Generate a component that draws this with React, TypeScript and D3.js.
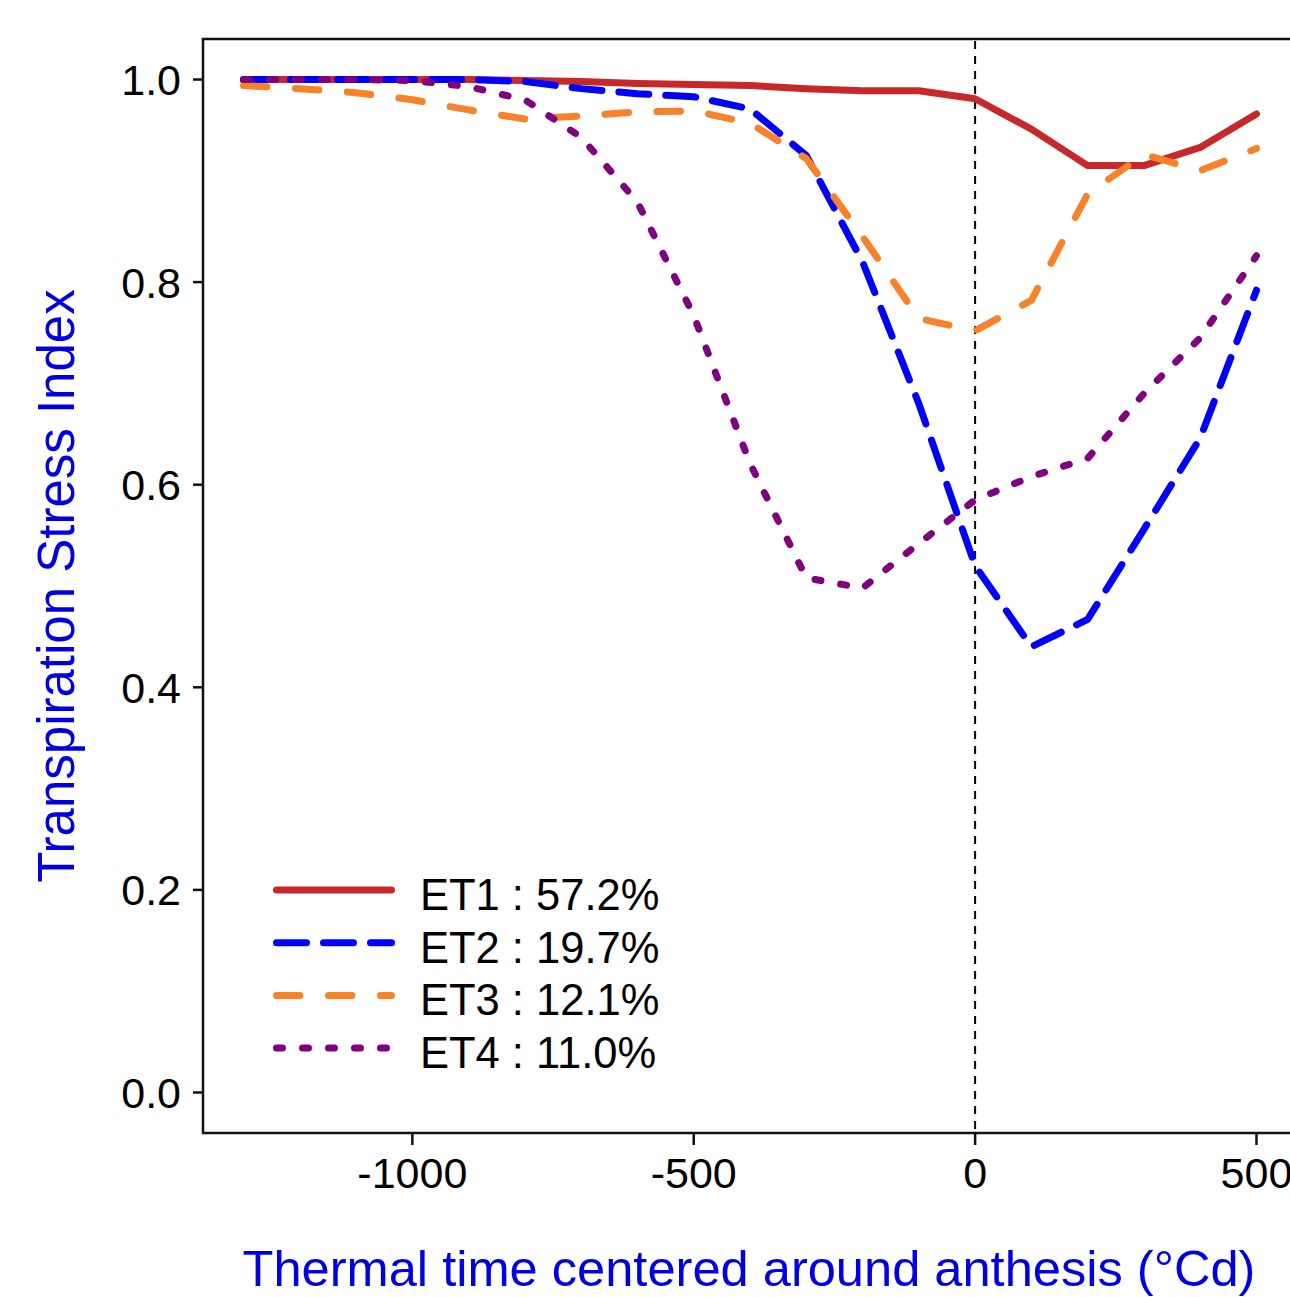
import React from "react";
import * as d3 from "d3";

const times = [-1300, -1200, -1100, -1000, -900, -800, -700, -600, -500, -400, -300, -200, -100, 0, 100, 200, 300, 400, 500];
const et1 = [1.0, 1.0, 1.0, 1.0, 1.0, 0.999, 0.998, 0.996, 0.995, 0.994, 0.991, 0.989, 0.989, 0.981, 0.951, 0.915, 0.915, 0.933, 0.966];
const et2 = [1.0, 1.0, 1.0, 1.0, 1.0, 0.998, 0.991, 0.986, 0.983, 0.971, 0.925, 0.82, 0.68, 0.52, 0.44, 0.467, 0.556, 0.646, 0.792];
const et3 = [0.994, 0.991, 0.987, 0.98, 0.97, 0.961, 0.964, 0.968, 0.969, 0.957, 0.922, 0.845, 0.764, 0.752, 0.782, 0.887, 0.926, 0.91, 0.932];
const et4 = [1.0, 1.0, 1.0, 0.999, 0.993, 0.98, 0.943, 0.879, 0.767, 0.621, 0.508, 0.498, 0.542, 0.585, 0.608, 0.626, 0.69, 0.745, 0.826];

const seriesNames = ["ET1 : 57.2%", "ET2 : 19.7%", "ET3 : 12.1%", "ET4 : 11.0%"];
const seriesValues = [et1, et2, et3, et4];
const seriesColors = ["#C8282A", "#0000FF", "#F8822A", "#800080"];
const seriesDash = ["none", "30 17", "23.5 28.5", "6 20"];

const xTicks = [-1000, -500, 0, 500];
const yTicks = [0.0, 0.2, 0.4, 0.6, 0.8, 1.0];

const xTitle = "Thermal time centered around anthesis (°Cd)";
const yTitle = "Transpiration Stress Index";

export default function App() {
  const W = 1290;
  const H = 1297;
  const left = 203, right = 1297, top = 39, bottom = 1133;
  const x = d3.scaleLinear().domain([-1372, 572]).range([left, right]);
  const y = d3.scaleLinear().domain([-0.04, 1.04]).range([bottom, top]);
  const font = "'Liberation Sans', Arial, Helvetica, sans-serif";
  const lw = 7;

  const line = d3
    .line<[number, number]>()
    .x((d) => x(d[0]))
    .y((d) => y(d[1]));

  const legendY0 = 890;
  const legendStep = 52.7;

  return (
    <svg
      width={W}
      height={H}
      style={{ position: "absolute", left: 0, top: 0, background: "#fff" }}
      fontFamily={font}
    >
      <rect x={0} y={0} width={W} height={H} fill="#fff" />
      <line x1={x(0)} x2={x(0)} y1={top + 2} y2={bottom} stroke="#000" strokeWidth={2} strokeDasharray="8 7" />
      {seriesValues.map((vals, i) => (
        <path
          key={i}
          d={line(times.map((t, j) => [t, vals[j]] as [number, number])) || ""}
          fill="none"
          stroke={seriesColors[i]}
          strokeWidth={lw}
          strokeDasharray={seriesDash[i]}
          strokeLinecap="round"
          strokeLinejoin="round"
        />
      ))}
      <rect x={left} y={top} width={right - left} height={bottom - top} fill="none" stroke="#111" strokeWidth={2.5} />
      {yTicks.map((v) => (
        <g key={v}>
          <line x1={left - 10} x2={left} y1={y(v)} y2={y(v)} stroke="#111" strokeWidth={2.5} />
          <text x={181} y={y(v)} dy="0.36em" textAnchor="end" fontSize={43} fill="#000">
            {d3.format(".1f")(v)}
          </text>
        </g>
      ))}
      {xTicks.map((v) => (
        <g key={v}>
          <line x1={x(v)} x2={x(v)} y1={bottom} y2={bottom + 12} stroke="#111" strokeWidth={2.5} />
          <text x={x(v)} y={1188} textAnchor="middle" fontSize={43} fill="#000">
            {String(v)}
          </text>
        </g>
      ))}
      <text x={749} y={1286} textAnchor="middle" fontSize={50.6} fill="#0000E0">
        {xTitle}
      </text>
      <text
        transform={`translate(74, ${(top + bottom) / 2}) rotate(-90)`}
        textAnchor="middle"
        fontSize={51}
        fill="#0000E0"
      >
        {yTitle}
      </text>
      {seriesNames.map((name, i) => {
        const ly = legendY0 + i * legendStep;
        return (
          <g key={name}>
            <line
              x1={276.5}
              x2={391.5}
              y1={ly}
              y2={ly}
              stroke={seriesColors[i]}
              strokeWidth={lw}
              strokeDasharray={seriesDash[i]}
              strokeLinecap="round"
            />
            <text x={420} y={ly + 20} fontSize={43.5} fill="#000">
              {name}
            </text>
          </g>
        );
      })}
    </svg>
  );
}
